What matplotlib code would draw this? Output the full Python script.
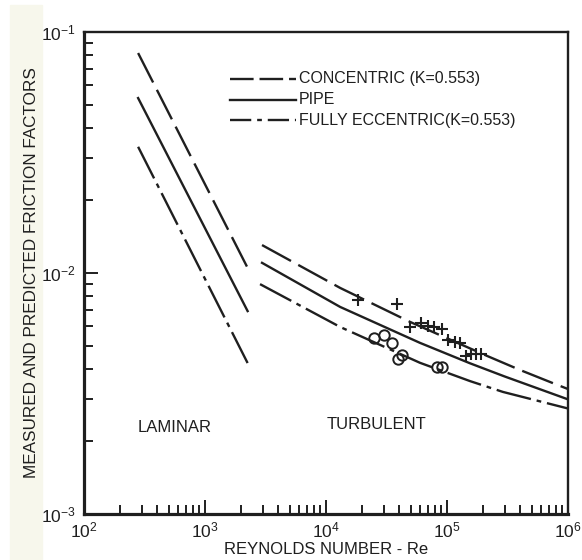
import matplotlib
matplotlib.use('Agg')
import matplotlib.pyplot as plt
from matplotlib.patches import Rectangle
from matplotlib.ticker import LogLocator, NullFormatter

plt.rcParams['font.family'] = ['Liberation Sans', 'DejaVu Sans']
plt.rcParams['mathtext.default'] = 'regular'

ink = '#1f1f1f'

# laminar lines (end points)
lam_re = [280, 2250]
lam_concentric = [0.0818, 0.0105]
lam_pipe = [0.0532, 0.00695]
lam_eccentric = [0.0334, 0.00423]

# turbulent curves
turb_re_conc = [2960, 13100, 49400, 214000, 401000, 752000, 1000000]
turb_concentric = [0.01306, 0.00867, 0.00627, 0.00453, 0.00396, 0.00349, 0.00330]
turb_re_pipe = [2960, 13100, 59800, 155000, 300000, 1000000]
turb_pipe = [0.01102, 0.00723, 0.00513, 0.00422, 0.00372, 0.00299]
turb_re_ecc = [2850, 13100, 59800, 155000, 290000, 1000000]
turb_eccentric = [0.00899, 0.00597, 0.00424, 0.00356, 0.00321, 0.00274]

# measured points
conc_re = [18400, 38600, 49400, 61000, 69700, 78100, 91000, 102000, 116000,
           128000, 144000, 158000, 174000, 191000]
conc_f = [0.00773, 0.00743, 0.00597, 0.00621, 0.00603, 0.00597, 0.00586,
          0.00527, 0.00517, 0.00513, 0.00453, 0.00462, 0.00462, 0.00462]
ecc_re = [24900, 30100, 35100, 42500, 39400, 82600, 91000]
ecc_f = [0.00537, 0.00553, 0.00513, 0.00457, 0.00440, 0.00407, 0.00407]

fig = plt.figure(figsize=(5.82, 5.60), dpi=100)
fig.patches.append(Rectangle((10 / 582, 0), 32 / 582, 555 / 560, transform=fig.transFigure,
                             color='#f7f7ec', zorder=-5))
ax = fig.add_axes([84 / 582, 46 / 560, 484 / 582, 482 / 560])
ax.patch.set_alpha(0)

lw = 1.7
dash_c = (0, (14, 3.5))
dash_e = (0, (15, 2.5, 2, 2.5))

ax.plot(lam_re, lam_concentric, color=ink, lw=lw, linestyle=dash_c)
ax.plot(lam_re, lam_pipe, color=ink, lw=lw)
ax.plot(lam_re, lam_eccentric, color=ink, lw=lw, linestyle=dash_e)

ax.plot(turb_re_conc, turb_concentric, color=ink, lw=lw, linestyle=dash_c)
ax.plot(turb_re_pipe, turb_pipe, color=ink, lw=lw)
ax.plot(turb_re_ecc, turb_eccentric, color=ink, lw=lw, linestyle=dash_e)

ax.plot(conc_re, conc_f, linestyle='none', marker='+', ms=9, mew=1.5, color=ink)
ax.plot(ecc_re, ecc_f, linestyle='none', marker='o', ms=7.5, mew=1.4,
        mfc='none', mec=ink)

ax.set_xscale('log')
ax.set_yscale('log')
ax.set_xlim(1e2, 1e6)
ax.set_ylim(1e-3, 1e-1)

ax.xaxis.set_major_locator(LogLocator(base=10, numticks=10))
ax.yaxis.set_major_locator(LogLocator(base=10, numticks=10))
ax.xaxis.set_minor_locator(LogLocator(base=10, subs=range(2, 10), numticks=20))
ax.yaxis.set_minor_locator(LogLocator(base=10, subs=range(2, 10), numticks=20))
ax.xaxis.set_minor_formatter(NullFormatter())
ax.yaxis.set_minor_formatter(NullFormatter())

ax.tick_params(which='both', direction='in', color=ink, labelcolor=ink,
               top=False, right=False)
ax.tick_params(which='major', length=10, width=1.4, labelsize=12.5)
ax.tick_params(axis='x', which='major', pad=5)
ax.tick_params(axis='y', which='major', pad=6)
ax.tick_params(which='minor', length=6.5, width=1.4)

for side in ['left', 'bottom']:
    ax.spines[side].set_linewidth(2.3)
for side in ['top', 'right']:
    ax.spines[side].set_linewidth(1.7)
for s in ax.spines.values():
    s.set_color(ink)

# legend drawn by hand
leg_y = [0.9025, 0.859, 0.8174]
leg_text = ['CONCENTRIC (K=0.553)', 'PIPE', 'FULLY ECCENTRIC(K=0.553)']
leg_style = [(0, (10, 2.5)), '-', (0, (9, 2.5, 2, 2.5))]
for yy, txt, ls in zip(leg_y, leg_text, leg_style):
    ax.plot([0.302, 0.438], [yy, yy], transform=ax.transAxes, color=ink, lw=lw,
            linestyle=ls)
    ax.text(0.444, yy, txt, transform=ax.transAxes, va='center', ha='left',
            fontsize=11.5, color=ink)

ax.text(0.188, 0.18, 'LAMINAR', transform=ax.transAxes, fontsize=12,
        ha='center', va='center', color=ink)
ax.text(0.604, 0.185, 'TURBULENT', transform=ax.transAxes, fontsize=12,
        ha='center', va='center', color=ink)

ax.set_xlabel('REYNOLDS NUMBER - Re', fontsize=12, color=ink, labelpad=1)
ax.set_ylabel('MEASURED AND PREDICTED FRICTION FACTORS', fontsize=12.3,
              color=ink)
ax.yaxis.set_label_coords(-0.092, 0.5)

fig.savefig('out.png', dpi=100)
